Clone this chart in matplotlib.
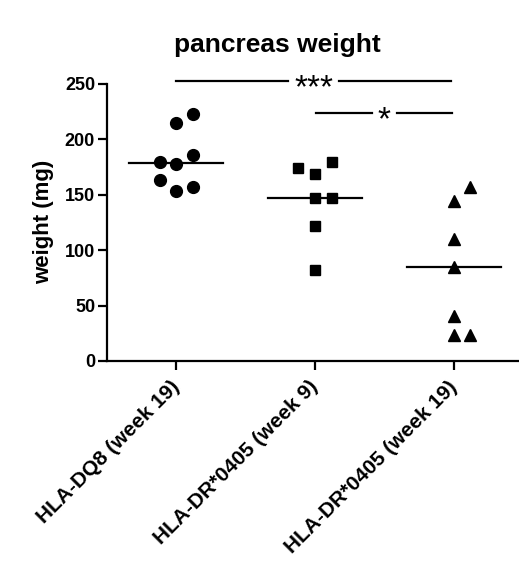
import numpy as np
import matplotlib
matplotlib.use('Agg')
import matplotlib.pyplot as plt

plt.rcParams['font.family'] = ['Liberation Sans', 'DejaVu Sans']

# data
groups = ['HLA-DQ8 (week 19)', 'HLA-DR*0405 (week 9)', 'HLA-DR*0405 (week 19)']
dq8_w19 = [223, 215, 180, 178, 186, 163, 153, 157]
dr4_w9 = [174, 169, 180, 147, 147, 122, 82]
dr4_w19 = [157, 144, 110, 85, 41, 23, 23]
# horizontal scatter of the points (group units)
dq8_w19_dx = [0.12, 0, -0.12, 0, 0.12, -0.12, 0, 0.12]
dr4_w9_dx = [-0.12, 0, 0.12, 0, 0.12, 0, 0]
dr4_w19_dx = [0.12, 0, 0, 0, 0, 0, 0.12]
yticks = [0, 50, 100, 150, 200, 250]

values = [dq8_w19, dr4_w9, dr4_w19]
offsets = [dq8_w19_dx, dr4_w9_dx, dr4_w19_dx]
markers = ['o', 's', '^']
msizes = [8.5, 7.8, 8.0]

fig = plt.figure(figsize=(5.19, 5.70), dpi=100)
ax = fig.add_axes([0.206, 0.3667, 0.794, 0.4860])

for i, (v, dx) in enumerate(zip(values, offsets)):
    xs = i + np.array(dx)
    ax.plot(xs, v, linestyle='none', marker=markers[i], markersize=msizes[i],
            color='black', clip_on=False)
    med = np.median(v)
    ax.plot([i - 0.34, i + 0.34], [med, med], color='black', linewidth=1.6)

# significance bars
def sig_bar(x0, x1, y, label, gap):
    xm = (x0 + x1) / 2.0
    ax.plot([x0, xm - gap / 2], [y, y], color='black', lw=1.6, clip_on=False)
    ax.plot([xm + gap / 2, x1], [y, y], color='black', lw=1.6, clip_on=False)
    ax.text(xm, y - 7, label, ha='center', va='center', fontsize=24,
            clip_on=False)

sig_bar(0.0, 1.98, 253, '***', 0.37)
sig_bar(1.01, 1.99, 224, '*', 0.18)

ax.set_xlim(-0.5, 2.47)
ax.set_ylim(0, 250)
ax.set_yticks(yticks)
ax.set_xticks(range(len(groups)))
ax.set_xticklabels(groups, rotation=45, ha='right', va='center',
                   rotation_mode='anchor', fontsize=15, fontweight='bold')
for lab in ax.get_yticklabels():
    lab.set_fontsize(13)
    lab.set_fontweight('bold')

for s in ['top', 'right']:
    ax.spines[s].set_visible(False)
for s in ['left', 'bottom']:
    ax.spines[s].set_linewidth(1.6)
ax.tick_params(direction='out', length=6.5, width=1.6, pad=2)
ax.tick_params(axis='x', pad=10)

fig.text(0.534, 0.909, 'pancreas weight', ha='center', va='baseline',
         fontsize=19, fontweight='bold')
fig.text(0.083, 0.6105, 'weight (mg)', ha='center', va='center',
         rotation=90, fontsize=16, fontweight='bold')

fig.savefig('out.png', dpi=100)
